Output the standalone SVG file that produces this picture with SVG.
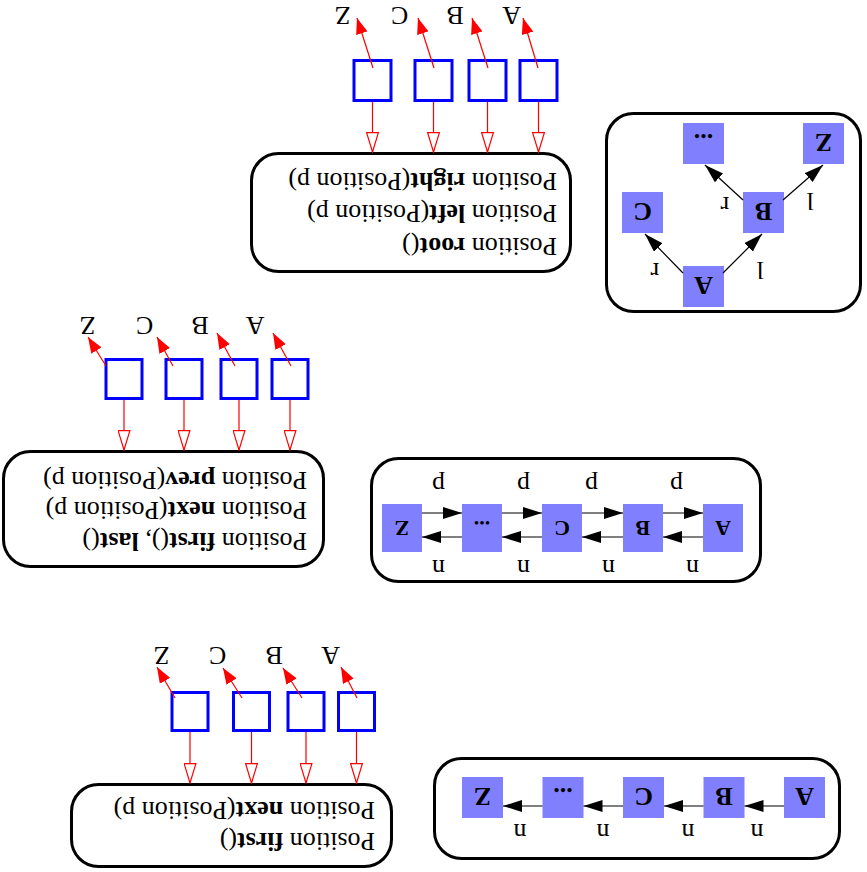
<svg xmlns="http://www.w3.org/2000/svg" width="867" height="872" viewBox="0 0 867 872">
<style>
.box{fill:#fff;stroke:#000;stroke-width:3}
.node{fill:#8080ff;stroke:none}
.nl{font-family:"Liberation Serif",serif;font-weight:bold;font-size:26px;text-anchor:middle;fill:#000}
.nl2{font-family:"Liberation Serif",serif;font-weight:bold;font-size:22px;text-anchor:middle;fill:#000}
.el{font-family:"Liberation Serif",serif;font-size:26px;text-anchor:middle;fill:#000}
.api{font-family:"Liberation Serif",serif;font-size:26px;fill:#000}
.sq{fill:none;stroke:#0000ff;stroke-width:3}
.bl{stroke:#000;stroke-width:1.2;fill:none;marker-end:url(#ab)}
.rl{stroke:#ff0000;stroke-width:1.2;fill:none;marker-end:url(#ar)}
.rh{stroke:#ff0000;stroke-width:1.2;fill:none;marker-end:url(#ah)}
</style>
<defs>
<marker id="ab" markerUnits="userSpaceOnUse" markerWidth="20" markerHeight="12" refX="19" refY="6" orient="auto"><path d="M0,0 L19,6 L0,12 Z" fill="#000"/></marker>
<marker id="ar" markerUnits="userSpaceOnUse" markerWidth="17" markerHeight="12" refX="16" refY="6" orient="auto"><path d="M0,0 L16,6 L0,12 Z" fill="#ff0000"/></marker>
<marker id="ah" markerUnits="userSpaceOnUse" markerWidth="21" markerHeight="13" refX="20" refY="6.5" orient="auto"><path d="M0.6,0.6 L20,6.5 L0.6,12.4 Z" fill="#fff" stroke="#ff0000" stroke-width="1.2"/></marker>
</defs>
<g transform="rotate(180 433.5 436)">
  <!-- Section 1: singly linked list -->
  <g id="list1">
    <rect class="box" x="27.5" y="13.5" width="405" height="100" rx="27"/>
    <g id="l1A"><rect class="node" x="42" y="54" width="41" height="41"/><text class="nl" x="62.5" y="84">A</text></g>
    <g id="l1B"><rect class="node" x="122.5" y="54" width="41" height="41"/><text class="nl" x="143" y="84">B</text></g>
    <g id="l1C"><rect class="node" x="203" y="54" width="41" height="41"/><text class="nl" x="223.5" y="84">C</text></g>
    <g id="l1D"><rect class="node" x="283.5" y="54" width="41" height="41"/><text class="nl" x="304" y="84">...</text></g>
    <g id="l1Z"><rect class="node" x="364" y="54" width="41" height="41"/><text class="nl" x="384.5" y="84">Z</text></g>
    <text class="el" x="110" y="48">n</text>
    <text class="el" x="179" y="48">n</text>
    <text class="el" x="264" y="48">n</text>
    <text class="el" x="347" y="48">n</text>
  </g>
  <g id="api1">
    <rect class="box" x="475.5" y="5.5" width="320" height="82" rx="27"/>
    <text class="api" x="492" y="39">Position <tspan font-weight="bold">first</tspan>()</text>
    <text class="api" x="492" y="70">Position <tspan font-weight="bold">next</tspan>(Position p)</text>
  </g>
  <g id="pos1">
    <rect class="sq" x="492.5" y="141.5" width="36" height="38"/>
    <rect class="sq" x="543" y="141.5" width="36" height="38"/>
    <rect class="sq" x="597.5" y="141.5" width="36" height="38"/>
    <rect class="sq" x="659" y="141.5" width="36" height="38"/>
    <text class="el" x="536.5" y="225">A</text>
    <text class="el" x="593" y="225">B</text>
    <text class="el" x="649.5" y="225">C</text>
    <text class="el" x="705.5" y="225">Z</text>
  </g>

  <!-- Section 2: doubly linked list -->
  <g id="list2">
    <rect class="box" x="106.5" y="290.5" width="389" height="123" rx="27"/>
    <g id="l2A"><rect class="node" x="124" y="320" width="40" height="48"/><text class="nl2" x="144" y="351">A</text></g>
    <g id="l2B"><rect class="node" x="204" y="320" width="40" height="48"/><text class="nl2" x="224" y="351">B</text></g>
    <g id="l2C"><rect class="node" x="285" y="320" width="40" height="48"/><text class="nl2" x="305" y="351">C</text></g>
    <g id="l2D"><rect class="node" x="365" y="320" width="40" height="48"/><text class="nl2" x="385" y="351">...</text></g>
    <g id="l2Z"><rect class="node" x="445" y="320" width="40" height="48"/><text class="nl2" x="465" y="351">Z</text></g>
    <text class="el" x="174.5" y="312">n</text>
    <text class="el" x="258.5" y="312">n</text>
    <text class="el" x="343.5" y="312">n</text>
    <text class="el" x="428.5" y="312">n</text>
    <text class="el" x="190.5" y="395">p</text>
    <text class="el" x="275.5" y="395">p</text>
    <text class="el" x="343.5" y="395">p</text>
    <text class="el" x="428.5" y="395">p</text>
  </g>
  <g id="api2">
    <rect class="box" x="543.5" y="305.5" width="320" height="115" rx="27"/>
    <text class="api" x="560" y="339">Position <tspan font-weight="bold">first</tspan>(), <tspan font-weight="bold">last</tspan>()</text>
    <text class="api" x="560" y="370">Position <tspan font-weight="bold">next</tspan>(Position p)</text>
    <text class="api" x="560" y="400">Position <tspan font-weight="bold">prev</tspan>(Position p)</text>
  </g>
  <g id="pos2">
    <rect class="sq" x="559" y="473.5" width="36" height="39"/>
    <rect class="sq" x="610" y="473.5" width="36" height="39"/>
    <rect class="sq" x="665" y="473.5" width="36" height="39"/>
    <rect class="sq" x="725" y="473.5" width="36" height="39"/>
    <text class="el" x="612" y="555">A</text>
    <text class="el" x="667" y="555">B</text>
    <text class="el" x="722.5" y="555">C</text>
    <text class="el" x="779.5" y="555">Z</text>
  </g>

  <!-- Section 3: binary tree -->
  <g id="tree">
    <rect class="box" x="6.5" y="560.5" width="254" height="198" rx="27"/>
    <g id="tA"><rect class="node" x="143" y="565" width="41" height="41"/><text class="nl" x="163.5" y="595">A</text></g>
    <g id="tB"><rect class="node" x="83" y="639" width="41" height="41"/><text class="nl" x="103.5" y="669">B</text></g>
    <g id="tC"><rect class="node" x="204" y="639" width="41" height="41"/><text class="nl" x="224.5" y="669">C</text></g>
    <g id="tD"><rect class="node" x="143" y="708" width="41" height="41"/><text class="nl" x="163.5" y="738">...</text></g>
    <g id="tZ"><rect class="node" x="23" y="708" width="41" height="41"/><text class="nl" x="43.5" y="738">Z</text></g>
    <text class="el" x="107" y="610">l</text>
    <text class="el" x="212" y="609">r</text>
    <text class="el" x="142" y="675">r</text>
    <text class="el" x="57" y="679">l</text>
  </g>
  <g id="api3">
    <rect class="box" x="296.5" y="600.5" width="319" height="118" rx="27"/>
    <text class="api" x="310" y="634">Position <tspan font-weight="bold">root</tspan>()</text>
    <text class="api" x="310" y="667">Position <tspan font-weight="bold">left</tspan>(Position p)</text>
    <text class="api" x="310" y="699">Position <tspan font-weight="bold">right</tspan>(Position p)</text>
  </g>
  <g id="pos3">
    <rect class="sq" x="310" y="771.5" width="37" height="40"/>
    <rect class="sq" x="361" y="771.5" width="37" height="40"/>
    <rect class="sq" x="415" y="771.5" width="37" height="40"/>
    <rect class="sq" x="476" y="771.5" width="37" height="40"/>
    <text class="el" x="355.5" y="865">A</text>
    <text class="el" x="412" y="865">B</text>
    <text class="el" x="467.5" y="865">C</text>
    <text class="el" x="524.5" y="865">Z</text>
  </g>

  <g id="connectors">
    <!-- list1 next -->
    <line class="bl" x1="83" y1="66" x2="122.5" y2="66"/>
    <line class="bl" x1="163.5" y1="66" x2="203" y2="66"/>
    <line class="bl" x1="244" y1="66" x2="283.5" y2="66"/>
    <line class="bl" x1="324.5" y1="66" x2="364" y2="66"/>
    <!-- list2 next -->
    <line class="bl" x1="164" y1="335" x2="204" y2="335"/>
    <line class="bl" x1="244" y1="335" x2="285" y2="335"/>
    <line class="bl" x1="325" y1="335" x2="365" y2="335"/>
    <line class="bl" x1="405" y1="335" x2="445" y2="335"/>
    <!-- list2 prev -->
    <line class="bl" x1="204" y1="359" x2="164" y2="359"/>
    <line class="bl" x1="285" y1="359" x2="244" y2="359"/>
    <line class="bl" x1="365" y1="359" x2="325" y2="359"/>
    <line class="bl" x1="445" y1="359" x2="405" y2="359"/>
    <!-- tree -->
    <line class="bl" x1="184" y1="599" x2="222" y2="638"/>
    <line class="bl" x1="144" y1="599" x2="105" y2="638"/>
    <line class="bl" x1="124" y1="672" x2="162" y2="707"/>
    <line class="bl" x1="84" y1="672" x2="44" y2="707"/>
    <!-- positions 1 -->
    <line class="rh" x1="510.5" y1="140" x2="510.5" y2="89"/>
    <line class="rh" x1="561" y1="140" x2="561" y2="89"/>
    <line class="rh" x1="615.5" y1="140" x2="615.5" y2="89"/>
    <line class="rh" x1="677" y1="140" x2="677" y2="89"/>
    <line class="rl" x1="510" y1="174" x2="526" y2="205"/>
    <line class="rl" x1="565" y1="174" x2="584" y2="204"/>
    <line class="rl" x1="625" y1="174" x2="644" y2="204"/>
    <line class="rl" x1="692" y1="174" x2="710" y2="205"/>
    <!-- positions 2 -->
    <line class="rh" x1="577" y1="472" x2="577" y2="422"/>
    <line class="rh" x1="628" y1="472" x2="628" y2="422"/>
    <line class="rh" x1="683" y1="472" x2="683" y2="422"/>
    <line class="rh" x1="743" y1="472" x2="743" y2="422"/>
    <line class="rl" x1="576" y1="506" x2="594" y2="539"/>
    <line class="rl" x1="632" y1="506" x2="650" y2="539"/>
    <line class="rl" x1="694" y1="506" x2="710" y2="535"/>
    <line class="rl" x1="761" y1="506" x2="779" y2="535"/>
    <!-- positions 3 -->
    <line class="rh" x1="328.5" y1="770" x2="328.5" y2="720"/>
    <line class="rh" x1="379.5" y1="770" x2="379.5" y2="720"/>
    <line class="rh" x1="433.5" y1="770" x2="433.5" y2="720"/>
    <line class="rh" x1="494.5" y1="770" x2="494.5" y2="720"/>
    <line class="rl" x1="329" y1="804" x2="344" y2="854"/>
    <line class="rl" x1="379" y1="804" x2="395" y2="854"/>
    <line class="rl" x1="433" y1="804" x2="449" y2="854"/>
    <line class="rl" x1="494" y1="804" x2="510" y2="854"/>
  </g>
</g>
</svg>
